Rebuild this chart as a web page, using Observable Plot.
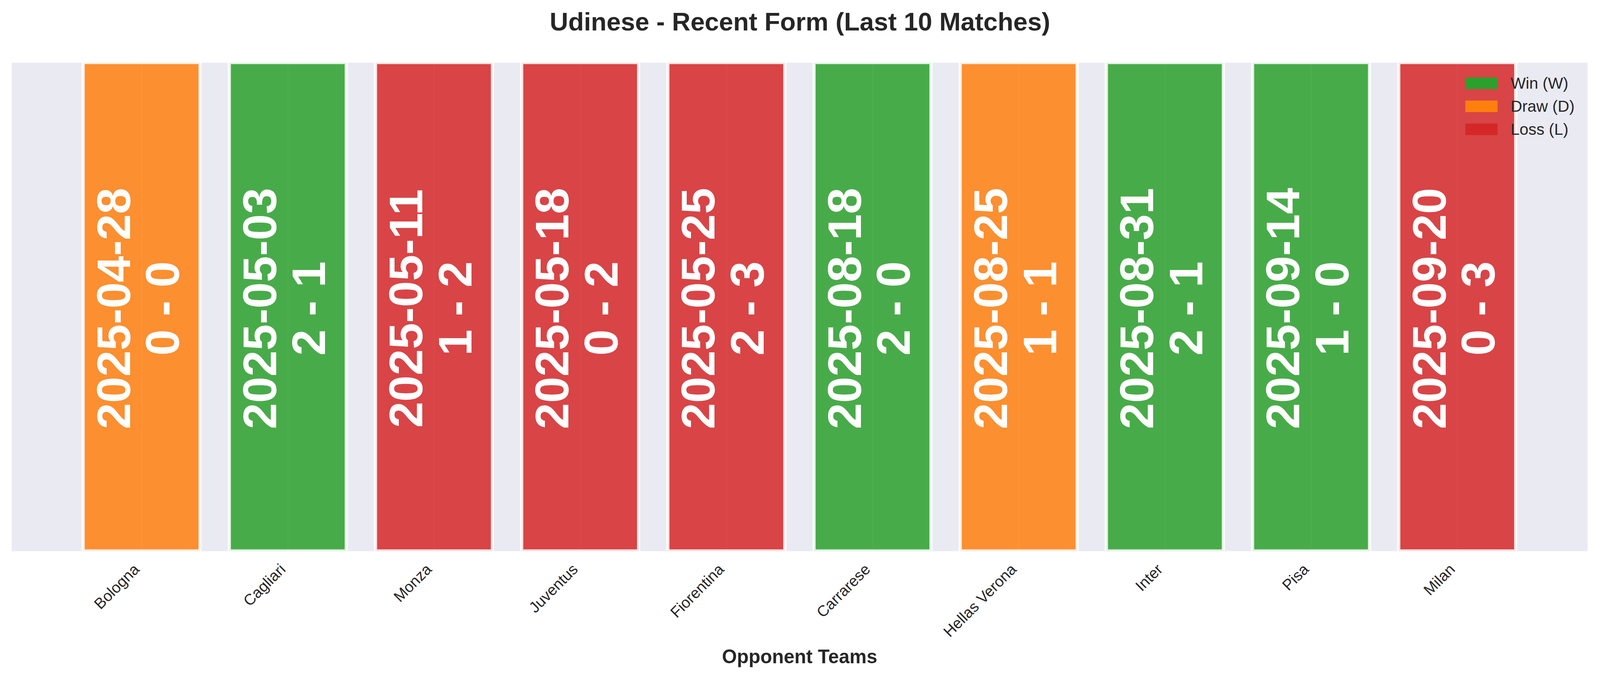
<!DOCTYPE html>
<html>
<head>
<meta charset="utf-8">
<script src="https://cdn.jsdelivr.net/npm/d3@7"></script>
<script src="https://cdn.jsdelivr.net/npm/@observablehq/plot@0.6"></script>
<style>
  html, body { margin: 0; padding: 0; background: #ffffff; overflow: hidden; }
  #wrap { position: relative; width: 4170px; height: 1769px; overflow: hidden; transform-origin: 0 0; font-family: "Liberation Sans", Arial, sans-serif; color: #262626; background: #ffffff; }
  #title { height: 110px; box-sizing: border-box; padding-top: 23px; text-align: center; font-size: 66.7px; line-height: 66.7px; font-weight: bold; color: #262626; white-space: nowrap; }
  #chart { height: 1659px; }
  #chart svg { display: block; }
  #legend { position: absolute; left: 3819px; top: 187px; }
  .row { display: flex; align-items: center; height: 60px; }
  .sw { width: 84px; height: 30px; margin-right: 34px; }
  .lab { font-size: 41.7px; line-height: 1; color: #262626; white-space: nowrap; }
</style>
</head>
<body>
<div id="wrap">
  <div id="title">Udinese - Recent Form (Last 10 Matches)</div>
  <div id="chart"></div>
  <div id="legend"></div>
</div>
<script>
// ---- data ----
const teams = ["Bologna", "Cagliari", "Monza", "Juventus", "Fiorentina", "Carrarese", "Hellas Verona", "Inter", "Pisa", "Milan"];
const dates = ["2025-04-28", "2025-05-03", "2025-05-11", "2025-05-18", "2025-05-25", "2025-08-18", "2025-08-25", "2025-08-31", "2025-09-14", "2025-09-20"];
const scores = ["0 - 0", "2 - 1", "1 - 2", "0 - 2", "2 - 3", "2 - 0", "1 - 1", "2 - 1", "1 - 0", "0 - 3"];
const results = ["D", "W", "L", "L", "L", "W", "D", "W", "W", "L"];
const barHeights = [1, 1, 1, 1, 1, 1, 1, 1, 1, 1];
const resultKeys = ["W", "D", "L"];
const resultLabels = ["Win (W)", "Draw (D)", "Loss (L)"];
const resultColors = ["#2ca02c", "#ff7f0e", "#d62728"];
const xLabel = "Opponent Teams";

const matches = teams.map((t, i) => ({
  team: t, date: dates[i], score: scores[i], result: results[i], h: barHeights[i]
}));

const chart = Plot.plot({
  width: 4170,
  height: 1659,
  marginTop: 53,
  marginBottom: 333,
  marginLeft: 30,
  marginRight: 33,
  style: { fontFamily: "Liberation Sans, Arial, sans-serif", background: "#ffffff", color: "#262626", maxWidth: "none" },
  x: { domain: teams, paddingInner: 0.2, paddingOuter: 0.49, round: false, axis: null },
  y: { domain: [0, 1], axis: null },
  color: { domain: resultKeys, range: resultColors },
  marks: [
    Plot.frame({ fill: "#EAEAF2", stroke: null }),
    Plot.ruleX(teams, { x: d => d, stroke: "#ffffff", strokeWidth: 4.2 }),
    Plot.barY(matches, {
      x: "team", y: "h", fill: "result", fillOpacity: 0.85,
      stroke: "#ffffff", strokeWidth: 8.3, strokeOpacity: 0.85, clip: "frame", inset: 0
    }),
    Plot.text(matches, {
      x: "team", y: d => d.h / 2,
      text: d => d.date + "\n" + d.score,
      rotate: -90, textAnchor: "middle", lineAnchor: "middle", lineHeight: 1.04,
      fontSize: 123, fontWeight: "bold", fill: "#ffffff", dx: -8, dy: 4
    }),
    Plot.text(teams, {
      x: d => d, text: d => d, frameAnchor: "bottom",
      rotate: -45, textAnchor: "end", lineAnchor: "bottom",
      dx: -4, dy: 50, fontSize: 40, fill: "#262626"
    }),
    Plot.text([xLabel], {
      text: d => d, frameAnchor: "bottom", lineAnchor: "bottom",
      dy: 292, fontSize: 50, fontWeight: "bold", fill: "#262626"
    })
  ]
});
document.getElementById("chart").appendChild(chart);

const legend = document.getElementById("legend");
resultKeys.forEach((k, i) => {
  const row = document.createElement("div");
  row.className = "row";
  const sw = document.createElement("div");
  sw.className = "sw";
  sw.style.background = resultColors[i];
  const lab = document.createElement("div");
  lab.className = "lab";
  lab.textContent = resultLabels[i];
  row.appendChild(sw);
  row.appendChild(lab);
  legend.appendChild(row);
});

// fit the 4170x1769 layout into the actual viewport
function fit() {
  const k = Math.min(window.innerWidth / 4170, window.innerHeight / 1769);
  document.getElementById("wrap").style.transform = "scale(" + k + ")";
}
fit();
window.addEventListener("resize", fit);
</script>
</body>
</html>
